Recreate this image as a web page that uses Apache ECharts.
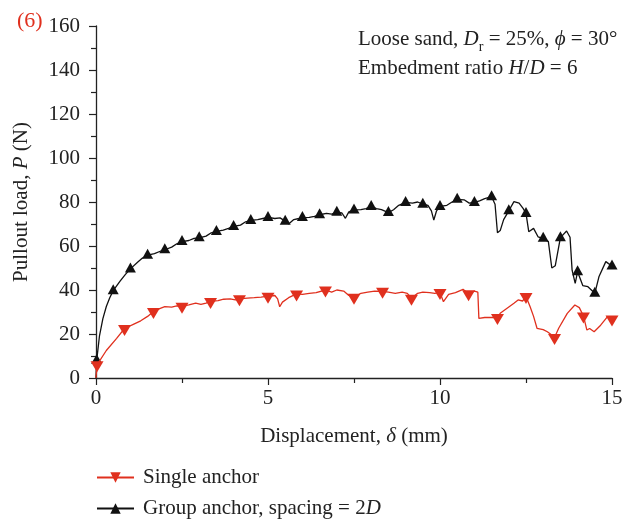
<!DOCTYPE html>
<html><head><meta charset="utf-8">
<script src="https://cdn.jsdelivr.net/npm/echarts@6/dist/echarts.min.js"></script>
<style>html,body{margin:0;padding:0;background:#fff}#c{width:631px;height:519px}</style>
</head><body><div id="c"></div>
<script>
const xTicks = [0, 5, 10, 15];
const yTicks = [0, 20, 40, 60, 80, 100, 120, 140, 160];

const singleName = 'Single anchor';
const groupName = 'Group anchor, spacing = 2D';

// Single anchor (red) – displacement (mm) and load (N)
const singleX = [0,0.03,0.3,0.6,0.83,1.1,1.3,1.5,1.67,1.85,2.0,2.2,2.35,2.5,2.7,2.9,3.05,3.2,3.33,3.55,3.71,3.9,4.05,4.17,4.4,4.6,4.8,5.0,5.2,5.28,5.34,5.42,5.6,5.83,6.0,6.2,6.4,6.67,6.85,7.0,7.2,7.35,7.5,7.7,7.9,8.1,8.33,8.5,8.7,8.9,9.05,9.17,9.35,9.5,9.7,9.85,10.0,10.1,10.25,10.45,10.67,10.83,11.0,11.1,11.13,11.3,11.5,11.67,11.75,11.95,12.15,12.27,12.4,12.5,12.62,12.72,12.82,13.0,13.12,13.25,13.33,13.45,13.7,13.92,14.05,14.17,14.27,14.35,14.48,14.67,14.87,15.0];
const singleY = [0,6,12.5,18,22.5,24.5,26,28,30.2,31.5,32.4,32.2,32.8,32.6,33.2,34,33.5,34,34.8,35.2,35.8,36,35.5,36,36.3,36.5,36.8,37.2,37.5,36,32.4,34.5,36.5,38.2,38,38.5,38.8,40,39,40,39.5,37.5,36.7,38.5,39,39.5,39.4,39,38.5,39,38.5,36.3,38.5,39,38.8,38.5,38.9,34.7,38,38.8,40.3,38.3,39.5,39,27.1,27.5,27.5,27.5,29.4,31.7,34,35.5,35,37,32.4,28,22.6,22,21,19.5,18.4,22.6,29.4,33.2,32,28.2,21.8,22.5,21,24,27.9,26.8];
const singleMarkX = [0.03,0.83,1.67,2.5,3.33,4.17,5.0,5.83,6.67,7.5,8.33,9.17,10.0,10.83,11.67,12.5,13.33,14.17,15.0];

// Group anchor (black)
const groupX = [0,0.02,0.1,0.2,0.3,0.4,0.5,0.7,0.85,1.0,1.2,1.35,1.5,1.7,1.85,2.0,2.2,2.35,2.5,2.7,2.85,3.0,3.2,3.35,3.5,3.7,3.85,4.0,4.2,4.35,4.5,4.7,4.85,5.0,5.2,5.35,5.5,5.6,5.75,5.9,6.0,6.2,6.35,6.5,6.7,6.85,7.0,7.15,7.25,7.35,7.5,7.7,7.85,8.0,8.15,8.3,8.5,8.65,8.8,9.0,9.2,9.35,9.5,9.65,9.75,9.82,9.9,10.0,10.2,10.35,10.5,10.7,10.85,11.0,11.15,11.3,11.5,11.6,11.67,11.75,11.85,12.0,12.15,12.3,12.42,12.5,12.58,12.72,12.85,13.0,13.15,13.25,13.35,13.5,13.68,13.78,13.84,13.93,14.0,14.15,14.3,14.5,14.62,14.82,14.9,15.0];
const groupY = [0,8,19,27,32.5,36.5,39.7,44,47,49.6,52.5,54.5,55.8,56.5,57.5,58.3,59.5,61,62,62.5,63.5,63.7,64.5,66,66.6,67.2,68,68.9,69.5,71,71.6,72,72.5,73,72.5,72.8,71.3,70,72,72.5,72.9,73,73.5,74.2,74.8,74.5,75.3,75,72.6,75.5,76.4,76.5,77,78,77,76.5,75.2,76.5,78.5,79.8,79.5,80,79,78.5,76,71.8,76,78,78.5,80,81.2,81,79.5,79.8,80.5,81.5,82.4,79,66,67,72,76,80.2,79.5,77,74.8,66.5,68,64.2,63.5,62,50,51,63.8,66.8,64,49,43,48.3,42,41.5,38.5,46,52.9,52,50.9];
const groupMarkX = [0.02,0.5,1.0,1.5,2.0,2.5,3.0,3.5,4.0,4.5,5.0,5.5,6.0,6.5,7.0,7.5,8.0,8.5,9.0,9.5,10.0,10.5,11.0,11.5,12.0,12.5,13.0,13.5,14.0,14.5,15.0];

const RED = '#e0301e';
const BLACK = '#111111';
const FONT = 'Liberation Serif';
const FS = 21;

const chart = echarts.init(document.getElementById('c'), null, {renderer: 'canvas'});

function pairs(xs, ys) { return xs.map((x, i) => [x, ys[i]]); }

chart.setOption({
  animation: false,
  backgroundColor: '#ffffff',
  textStyle: {fontFamily: FONT, color: '#222'},
  grid: {left: 96, right: 19, top: 26, bottom: 141, containLabel: false},
  xAxis: {
    type: 'value', min: 0, max: 15, interval: 5,
    axisLine: {show: true, onZero: false, lineStyle: {color: '#222', width: 1.3}},
    axisTick: {show: true, length: 7, lineStyle: {color: '#222', width: 1.2}},
    minorTick: {show: true, splitNumber: 2, length: 5, lineStyle: {color: '#222', width: 1.2}},
    splitLine: {show: false},
    axisLabel: {fontFamily: FONT, fontSize: FS, color: '#222', margin: 10,
      formatter: v => xTicks.includes(v) ? String(v) : ''},
    name: 'Displacement, {i|δ} (mm)', nameLocation: 'middle', nameGap: 48,
    nameTextStyle: {fontFamily: FONT, fontSize: FS, color: '#222',
      rich: {i: {fontFamily: FONT, fontStyle: 'italic', fontSize: FS, color: '#222'}}}
  },
  yAxis: {
    type: 'value', min: 0, max: 160, interval: 20,
    axisLine: {show: true, onZero: false, lineStyle: {color: '#222', width: 1.3}},
    axisTick: {show: true, length: 7, lineStyle: {color: '#222', width: 1.2}},
    minorTick: {show: true, splitNumber: 2, length: 5, lineStyle: {color: '#222', width: 1.2}},
    splitLine: {show: false},
    axisLabel: {fontFamily: FONT, fontSize: FS, color: '#222', margin: 16,
      formatter: v => yTicks.includes(v) ? String(v) : ''},
    name: 'Pullout load, {i|P} (N)', nameLocation: 'middle', nameGap: 64,
    nameTextStyle: {fontFamily: FONT, fontSize: FS, color: '#222',
      rich: {i: {fontFamily: FONT, fontStyle: 'italic', fontSize: FS, color: '#222'}}}
  },
  legend: {
    orient: 'vertical', left: 96, top: 467, padding: 0,
    itemWidth: 37, itemHeight: 13, itemGap: 10,
    textStyle: {fontFamily: FONT, fontSize: FS, color: '#222', padding: [0, 0, 0, 4],
      rich: {i: {fontFamily: FONT, fontStyle: 'italic', fontSize: FS, color: '#222'}}},
    formatter: n => n === groupName ? 'Group anchor, spacing = 2{i|D}' : n,
    data: [singleName, groupName]
  },
  graphic: [
    {type: 'text', left: 17, top: 10, style: {text: '(6)', fill: RED, font: '22px "Liberation Serif"'}},
    {type: 'text', left: 358, top: 29, style: {
      text: 'Loose sand, {i|D}{s|r} = 25%, {i|ϕ} = 30°',
      font: '21px "Liberation Serif"', fill: '#222',
      rich: {
        i: {fontSize: FS, fontFamily: FONT, fontStyle: 'italic', lineHeight: 30, verticalAlign: 'middle'},
        s: {fontSize: 14, fontFamily: FONT, lineHeight: 14, verticalAlign: 'bottom'}
      }}},
    {type: 'text', left: 358, top: 58, style: {
      text: 'Embedment ratio {i|H}/{i|D} = 6',
      font: '21px "Liberation Serif"', fill: '#222',
      rich: {i: {fontSize: FS, fontFamily: FONT, fontStyle: 'italic'}}}}
  ],
  series: [
    {
      name: singleName, type: 'line', data: pairs(singleX, singleY),
      color: RED, lineStyle: {color: RED, width: 1.3},
      itemStyle: {color: RED},
      symbol: 'path://M0,0L10,0L5,8.66Z',
      symbolSize: v => singleMarkX.includes(v[0]) ? [13, 11] : 0,
      symbolOffset: [0, 2],
      showSymbol: true, showAllSymbol: true, z: 3
    },
    {
      name: groupName, type: 'line', data: pairs(groupX, groupY),
      color: BLACK, lineStyle: {color: BLACK, width: 1.3},
      itemStyle: {color: BLACK},
      symbol: 'triangle',
      symbolSize: v => groupMarkX.includes(v[0]) ? [11, 10] : 0,
      symbolOffset: [0, -1.5],
      showSymbol: true, showAllSymbol: true, z: 2
    }
  ]
});
</script></body></html>
